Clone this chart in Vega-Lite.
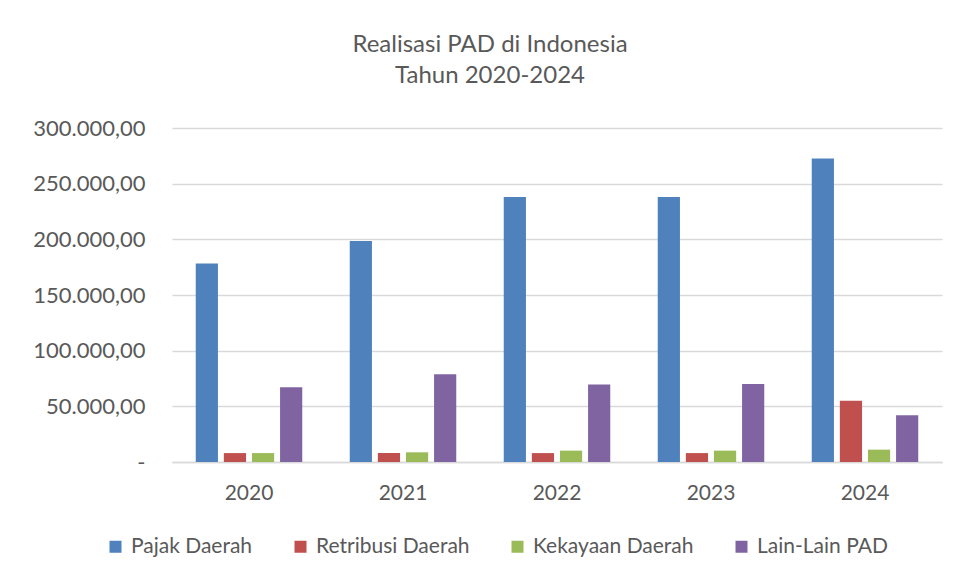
{
  "$schema": "https://vega.github.io/schema/vega-lite/v6.json",
  "width": 770,
  "height": 334,
  "autosize": {"type": "none"},
  "padding": {"left": 172, "top": 128, "right": 14, "bottom": 117},
  "background": "white",
  "title": {
    "text": ["Realisasi PAD di Indonesia", "Tahun 2020-2024"],
    "anchor": "middle",
    "frame": "group",
    "dx": -67,
    "offset": 29,
    "font": "Lato",
    "fontSize": 24,
    "fontWeight": "normal",
    "color": "#595959",
    "lineHeight": 31
  },
  "data": {
    "values": [
      {"year": "2020", "series": "Pajak Daerah", "value": 178200},
      {"year": "2020", "series": "Retribusi Daerah", "value": 8000},
      {"year": "2020", "series": "Kekayaan Daerah", "value": 8000},
      {"year": "2020", "series": "Lain-Lain PAD", "value": 67100},
      {"year": "2021", "series": "Pajak Daerah", "value": 198500},
      {"year": "2021", "series": "Retribusi Daerah", "value": 8000},
      {"year": "2021", "series": "Kekayaan Daerah", "value": 8700},
      {"year": "2021", "series": "Lain-Lain PAD", "value": 78800},
      {"year": "2022", "series": "Pajak Daerah", "value": 238000},
      {"year": "2022", "series": "Retribusi Daerah", "value": 8000},
      {"year": "2022", "series": "Kekayaan Daerah", "value": 10200},
      {"year": "2022", "series": "Lain-Lain PAD", "value": 69500},
      {"year": "2023", "series": "Pajak Daerah", "value": 238000},
      {"year": "2023", "series": "Retribusi Daerah", "value": 8000},
      {"year": "2023", "series": "Kekayaan Daerah", "value": 10200},
      {"year": "2023", "series": "Lain-Lain PAD", "value": 70000},
      {"year": "2024", "series": "Pajak Daerah", "value": 272500},
      {"year": "2024", "series": "Retribusi Daerah", "value": 55100},
      {"year": "2024", "series": "Kekayaan Daerah", "value": 11100},
      {"year": "2024", "series": "Lain-Lain PAD", "value": 41900}
    ]
  },
  "mark": {"type": "bar"},
  "encoding": {
    "x": {
      "field": "year",
      "type": "nominal",
      "scale": {"paddingInner": 0.27, "paddingOuter": 0.135},
      "axis": {
        "title": null,
        "labelAngle": 0,
        "labelFont": "Lato",
        "labelFontSize": 21,
        "labelColor": "#595959",
        "labelPadding": 20,
        "ticks": false,
        "domainColor": "#d9d9d9",
        "domainWidth": 1.5
      }
    },
    "xOffset": {
      "field": "series",
      "type": "nominal",
      "sort": ["Pajak Daerah", "Retribusi Daerah", "Kekayaan Daerah", "Lain-Lain PAD"],
      "scale": {"paddingInner": 0.21, "paddingOuter": 0.105}
    },
    "y": {
      "field": "value",
      "type": "quantitative",
      "scale": {"domain": [0, 300000]},
      "axis": {
        "title": null,
        "values": [0, 50000, 100000, 150000, 200000, 250000, 300000],
        "format": ",.2f",
        "labelExpr": "datum.value == 0 ? '-\u2007' : datum.label",
        "labelFont": "Lato",
        "labelFontSize": 22,
        "labelColor": "#595959",
        "labelPadding": 27,
        "ticks": false,
        "domain": false,
        "gridColor": "#d9d9d9",
        "gridWidth": 1.5
      }
    },
    "color": {
      "field": "series",
      "type": "nominal",
      "scale": {
        "domain": ["Pajak Daerah", "Retribusi Daerah", "Kekayaan Daerah", "Lain-Lain PAD"],
        "range": ["#4F81BD", "#C0504D", "#9BBB59", "#8064A2"]
      },
      "legend": {
        "title": null,
        "orient": "none",
        "legendX": -67,
        "legendY": 408,
        "direction": "horizontal",
        "symbolType": "square",
        "symbolSize": 144,
        "symbolStrokeWidth": 0,
        "labelFont": "Lato",
        "labelFontSize": 21,
        "labelColor": "#595959",
        "labelOffset": 5,
        "labelLimit": 400,
        "columnPadding": 37,
        "padding": 0
      }
    }
  },
  "config": {
    "locale": {
      "number": {"decimal": ",", "thousands": ".", "grouping": [3], "currency": ["", ""]}
    },
    "view": {"stroke": null}
  }
}
